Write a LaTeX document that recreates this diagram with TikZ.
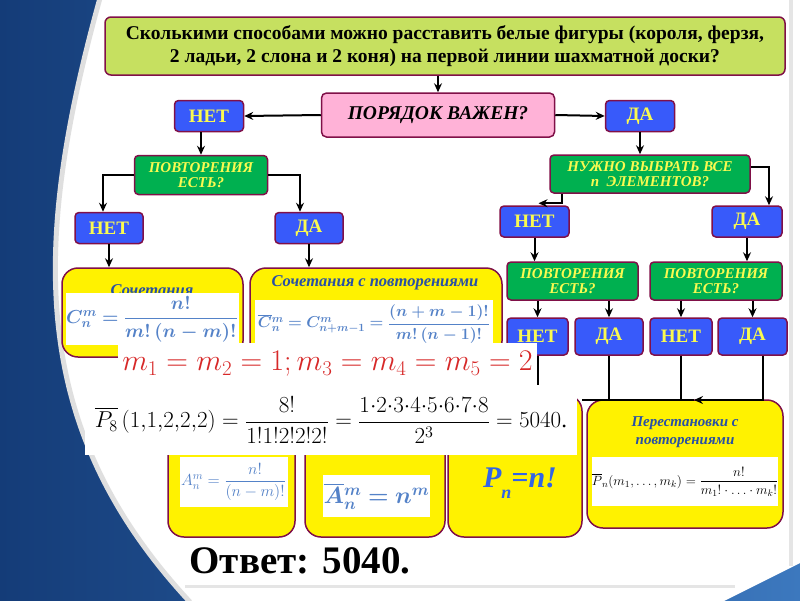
\documentclass[tikz,border=0pt]{standalone}
\usepackage{fix-cm}
\usepackage{amsmath,bm}
\usepackage{fontspec}
\setmainfont{Liberation Serif}
\usetikzlibrary{arrows.meta,calc,positioning}
\definecolor{frame}{RGB}{128,16,72}
\definecolor{ansblue}{RGB}{56,90,250}
\definecolor{askgreen}{RGB}{0,176,80}
\definecolor{txtyellow}{RGB}{250,250,80}
\definecolor{headgreen}{RGB}{198,224,96}
\definecolor{ordpink}{RGB}{255,178,215}
\definecolor{fblue}{RGB}{84,130,200}
\definecolor{tblue}{RGB}{40,80,165}
\definecolor{pblue}{RGB}{50,100,230}
\definecolor{mred}{RGB}{215,40,40}
\definecolor{sky}{RGB}{60,120,190}
\definecolor{deep}{RGB}{20,60,120}

\begin{document}
\begin{tikzpicture}[x=1pt,y=-1pt,
  wh/.style 2 args={minimum width=#1,minimum height=#2,inner sep=0pt},
  ansbox/.style={draw=frame,line width=1.5pt,fill=ansblue,rounded corners=4pt,text=txtyellow,font=\fontsize{19}{19}\selectfont\bfseries},
  askbox/.style={draw=frame,line width=1.5pt,fill=askgreen,rounded corners=4pt,text=txtyellow,align=center,font=\fontsize{15}{15.5}\selectfont\bfseries\itshape},
  resbox/.style={draw=frame,line width=1.5pt,fill=yellow,rounded corners=16pt},
  fbox/.style={fill=white,inner sep=0pt,text=fblue},
  rtitle/.style={text=tblue,font=\fontsize{16.5}{18}\selectfont\bfseries\itshape,align=center},
  link/.style={line width=2pt},
  arr/.style={line width=2pt,-{Stealth[length=9pt,width=8pt,inset=3pt]}}]
\useasboundingbox (0,0) rectangle (800,600);
% background and page
\shade[left color=deep,right color=sky] (0,0) rectangle (800,600);
\fill[white] (100,-2) .. controls (30,250) and (30,430) .. (190,602) -- (722,602) -- (802,562) -- (802,-2) -- cycle;
\draw[gray!25,line width=5pt] (100,-2) .. controls (30,250) and (30,430) .. (190,602);
\draw[gray!20,line width=4pt] (791,-2) -- (791,566);
\draw[gray!20,line width=3pt] (185,586) -- (735,586);

% question and first split
\node[draw=frame,line width=1.5pt,fill=headgreen,rounded corners=6pt,wh={680}{58},align=center,font=\fontsize{19.5}{23}\selectfont\bfseries] (quest) at (445,46) {Сколькими способами можно расставить белые фигуры (короля, ферзя,\\ 2 ладьи, 2 слона и 2 коня) на первой линии шахматной доски?};
\node[draw=frame,line width=1.5pt,fill=ordpink,rounded corners=5pt,wh={233}{44},font=\fontsize{19.5}{19.5}\selectfont\bfseries\itshape] (order) at (438,115) {ПОРЯДОК ВАЖЕН?};
\node[ansbox,wh={69}{31}] (noOrd) at (209,116) {НЕТ};
\node[ansbox,wh={69}{31}] (yesOrd) at (640,116) {ДА};
\draw[arr] (order.north |- quest.south) -- (order.north);
\draw[arr] (order.west) -- (noOrd.east);
\draw[arr] (order.east) -- (yesOrd.west);

% left branch
\node[askbox,wh={133}{39}] (repA) at (201,175) {ПОВТОРЕНИЯ\\ЕСТЬ?};
\draw[arr] (repA.north |- noOrd.south) -- (repA.north);
\node[ansbox,wh={68}{31}] (noRepA) at (109,228) {НЕТ};
\node[ansbox,wh={68}{31}] (yesRepA) at (309,228) {ДА};
\draw[arr] (repA.west) -| ($(noRepA.north)+(-6,0)$);
\draw[arr] (repA.east) -| ($(yesRepA.north)+(-9,0)$);

\node[resbox,wh={181}{89}] (comb) at (152.5,312.5) {};
\node[resbox,wh={252}{89}] (combR) at (376,312.5) {};
\draw[arr] (noRepA.south) -- (noRepA.south |- comb.north);
\draw[arr] (yesRepA.south) -- (yesRepA.south |- combR.north);
\node[rtitle] (combT) at (152,290) {Сочетания};
\node[fbox,wh={173}{52}] (combF) at (152,319) {\fontsize{18.8}{18.8}\selectfont$\bm{C_n^m=\dfrac{n!}{m!\,(n-m)!}}$};
\node[rtitle] (combRT) at (375,283) {Сочетания с повторениями};
\node[fbox,wh={238}{48}] (combRF) at (374,324) {\fontsize{15.8}{15.8}\selectfont$\bm{\overline{C}{}_n^m=C_{n+m-1}^m=\dfrac{(n+m-1)!}{m!\,(n-1)!}}$};

% right branch
\node[askbox,wh={200}{38}] (allN) at (650,174) {НУЖНО ВЫБРАТЬ ВСЕ\\n\ \ ЭЛЕМЕНТОВ?};
\draw[arr] (yesOrd.south) -- (yesOrd.south |- allN.north);
\node[ansbox,wh={69}{31}] (noAll) at (534.5,221.5) {НЕТ};
\node[ansbox,wh={70}{31}] (yesAll) at (747,221.5) {ДА};
\draw[arr] ($(allN.south west)+(13,0)$) |- ($(noAll.north)+(4,-2)$);
\draw[arr] ($(allN.east)+(0,-7)$) -| ($(yesAll.north)+(22,0)$);

\node[askbox,wh={131}{38}] (repB) at (572.5,281) {ПОВТОРЕНИЯ\\ЕСТЬ?};
\node[askbox,wh={132}{38}] (repC) at (716,281) {ПОВТОРЕНИЯ\\ЕСТЬ?};
\draw[arr] (noAll.south) -- (noAll.south |- repB.north);
\draw[arr] (yesAll.south) -- (yesAll.south |- repC.north);

\node[ansbox,wh={61}{37}] (noRepB) at (537.5,336.5) {НЕТ};
\node[ansbox,wh={68}{37}] (yesRepB) at (609,336.5) {ДА};
\node[ansbox,wh={62}{37}] (noRepC) at (681,336.5) {НЕТ};
\node[ansbox,wh={69}{37}] (yesRepC) at (752.5,336.5) {ДА};
\draw[arr] (repB.south -| noRepB.north) -- (noRepB.north);
\draw[arr] (repB.south -| yesRepB.north) -- (yesRepB.north);
\draw[arr] (repC.south -| noRepC.north) -- (noRepC.north);
\draw[arr] (repC.south -| yesRepC.north) -- (yesRepC.north);

% bottom results
\node[resbox,wh={127}{142}] (arrg) at (231.5,466) {};
\node[resbox,wh={140}{142}] (arrgR) at (375,466) {};
\node[resbox,wh={134}{142}] (perm) at (515,466) {};
\node[resbox,wh={196}{128}] (permR) at (685,464) {};

\coordinate (jn) at (582,400);
\coordinate (tip) at (694,400);
\draw[arr] ($(yesRepC.south)+(10,0)$) |- (tip);
\draw[link] (tip) -- (jn);
\draw[link] (yesRepB.south) -- (yesRepB.south |- jn);
\draw[link] (noRepC.south) -- (noRepC.south |- jn);
\draw[link] (noRepB.south) -- (noRepB.south |- perm.north);

\node[fbox,wh={108}{50}] (arrgF) at (233.5,482) {\fontsize{16}{16}\selectfont$A_n^m=\dfrac{n!}{(n-m)!}$};
\node[fbox,wh={107}{42}] (arrgRF) at (376.5,496) {\fontsize{23.5}{23.5}\selectfont$\bm{\overline{A}{}_n^m=n^m}$};
\node[text=pblue,font=\fontsize{30}{30}\selectfont\bfseries\itshape] (permF) at (520,483) {P\raisebox{-11pt}{\fontsize{18}{18}\selectfont n}=n!};
\node[rtitle,font=\fontsize{15}{18}\selectfont\bfseries\itshape] (permRT) at (685,432) {Перестановки с\\повторениями};
\node[fbox,wh={186}{49},text=black] (permRF) at (685,481.5) {\fontsize{13.4}{13.4}\selectfont$\overline{P}_n(m_1,\ldots,m_k)=\dfrac{n!}{m_1!\cdot\ldots\cdot m_k!}$};

% pasted solution
\node[fbox,wh={419}{42},text=mred] (mult) at (327.5,364) {\fontsize{30}{30}\selectfont$m_1=m_2=1;m_3=m_4=m_5=2$};
\node[fbox,wh={492}{70},text=black] (calc8) at (331,420) {\fontsize{23}{23}\selectfont$\overline{P_8}\left(1{,}1{,}2{,}2{,}2\right)=\dfrac{8!}{1!1!2!2!2!}=\dfrac{1{\cdot}2{\cdot}3{\cdot}4{\cdot}5{\cdot}6{\cdot}7{\cdot}8}{2^3}=5040$.};
\node[font=\fontsize{39}{39}\selectfont\bfseries] (answer) at (300,561) {Ответ: 5040.};
\end{tikzpicture}
\end{document}
